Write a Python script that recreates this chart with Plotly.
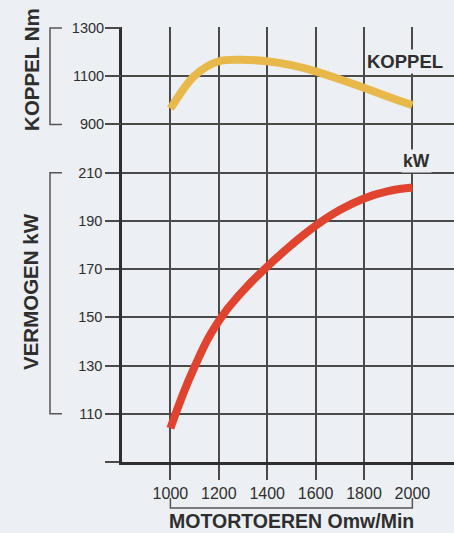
import plotly.graph_objects as go

rpm = [1000, 1100, 1200, 1300, 1400, 1500, 1600, 1700, 1800, 1900, 2000]
koppel_nm = [965, 1102, 1162, 1168, 1162, 1146, 1120, 1087, 1052, 1015, 980]
vermogen_kw = [104, 129.5, 148.5, 161, 171, 180, 188, 194.5, 199.3, 202.3, 203.8]

x_ticks = [1000, 1200, 1400, 1600, 1800, 2000]
kw_grid = [90, 110, 130, 150, 170, 190, 210, 230, 250, 270]
kw_labels = ["", "110", "130", "150", "170", "190", "210", "", "", ""]
nm_ticks = [900, 1100, 1300]
nm_labels = ["900", "1100", "1300"]

BG = "#eceff4"
INK = "#2e2e2e"
GRID = "#4a4a4a"
YELLOW = "#e8b94a"
RED = "#e0432e"
FONT = "Liberation Sans"

fig = go.Figure()
fig.add_trace(go.Scatter(x=rpm, y=koppel_nm, yaxis="y2", mode="lines",
                         line=dict(color=YELLOW, width=8, shape="spline", smoothing=0.9),
                         hoverinfo="skip", showlegend=False))
fig.add_trace(go.Scatter(x=rpm, y=vermogen_kw, yaxis="y", mode="lines",
                         line=dict(color=RED, width=8, shape="spline", smoothing=1.3),
                         hoverinfo="skip", showlegend=False))

fig.update_layout(
    width=454, height=533,
    margin=dict(l=122, r=0, t=27, b=71),
    paper_bgcolor=BG, plot_bgcolor=BG,
    font=dict(family=FONT, color=INK),
    xaxis=dict(range=[800, 2172], tickvals=x_ticks, ticktext=[str(v) for v in x_ticks],
               showgrid=True, gridcolor=GRID, gridwidth=1.5,
               ticks="outside", ticklen=15, tickwidth=1.5, tickcolor=GRID,
               showline=True, linecolor=INK, linewidth=2.5, zeroline=False,
               tickfont=dict(size=16, color=INK, family=FONT)),
    yaxis=dict(range=[90, 270.4], tickvals=kw_grid, ticktext=kw_labels,
               showgrid=True, gridcolor=GRID, gridwidth=1.5,
               ticks="outside", ticklen=14, tickwidth=1.5, tickcolor=GRID,
               showline=True, linecolor=INK, linewidth=2.5, zeroline=False,
               tickfont=dict(size=14.5, color=INK, family=FONT)),
    yaxis2=dict(range=[-500, 1304], overlaying="y", side="left",
                tickvals=nm_ticks, ticktext=nm_labels, showgrid=False,
                ticks="outside", ticklen=14, tickwidth=1.5, tickcolor=GRID,
                showline=False, zeroline=False,
                tickfont=dict(size=14.5, color=INK, family=FONT)),
)

# brackets
bx0, bx1 = (50 - 122) / 332, (62 - 122) / 332
lw = dict(color="#555555", width=1.5)
for ref, lo, hi in [("y2", 900, 1300), ("y", 110, 210)]:
    fig.add_shape(type="path", xref="paper", yref=ref,
                  path=f"M {bx1} {hi} L {bx0} {hi} L {bx0} {lo} L {bx1} {lo}",
                  line=lw)
fig.add_shape(type="path", xref="x", yref="paper",
              path="M 1000 -0.083 L 1000 -0.106 L 2000 -0.106 L 2000 -0.083",
              line=lw)

# titles / labels
fig.add_annotation(text="<b>KOPPEL Nm</b>", xref="paper", yref="y2", x=(32 - 122) / 332, y=1126,
                   textangle=-90, showarrow=False, font=dict(size=20.5, color=INK, family=FONT),
                   xanchor="center", yanchor="middle")
fig.add_annotation(text="<b>VERMOGEN kW</b>", xref="paper", yref="y", x=(30 - 122) / 332, y=160.5,
                   textangle=-90, showarrow=False, font=dict(size=20.5, color=INK, family=FONT),
                   xanchor="center", yanchor="middle")
fig.add_annotation(text="<b>MOTORTOEREN Omw/Min</b>", xref="x", yref="paper", x=1500, y=-0.1345,
                   showarrow=False, font=dict(size=19.5, color=INK, family=FONT),
                   xanchor="center", yanchor="middle")
fig.add_annotation(text="<b>KOPPEL</b>", xref="x", yref="y2", x=1969, y=1163,
                   showarrow=False, font=dict(size=18.5, color=INK, family=FONT),
                   xanchor="center", yanchor="middle", bgcolor=BG)
fig.add_annotation(text="<b>kW</b>", xref="x", yref="y", x=2015, y=214.8,
                   showarrow=False, font=dict(size=17.5, color=INK, family=FONT),
                   xanchor="center", yanchor="middle", bgcolor=BG)

fig.write_html("out.html", config={"displayModeBar": False},
               post_script="document.body.style.margin='0';document.body.style.background='%s';" % BG)
